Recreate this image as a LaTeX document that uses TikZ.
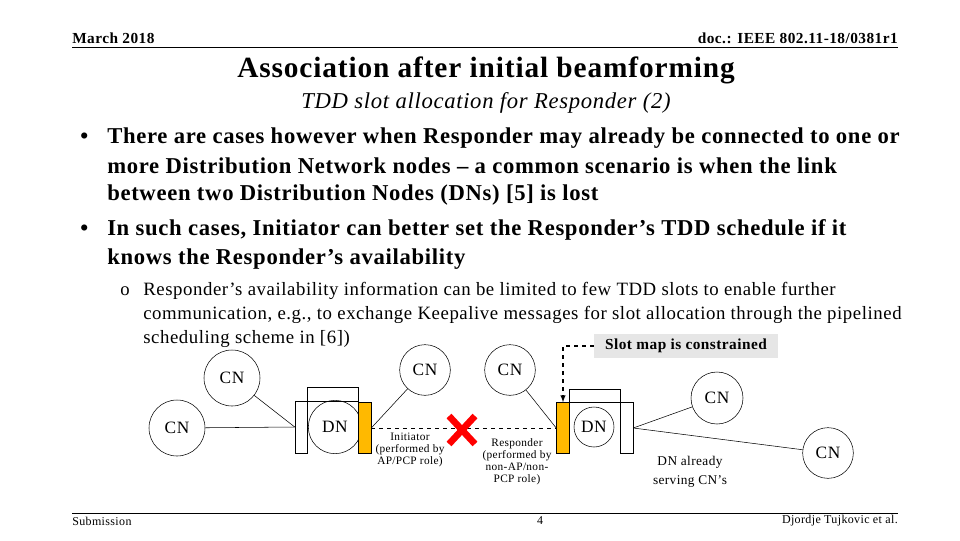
\documentclass[tikz,border=0pt]{standalone}
\usepackage{fontspec}
\setmainfont[LetterSpace=3]{Liberation Serif}
\usetikzlibrary{positioning}
\definecolor{slotbar}{HTML}{FFB900}
\definecolor{slotbox}{HTML}{E6E6E6}
\begin{document}
\begin{tikzpicture}[x=0.75pt,y=-0.75pt,
  cn/.style={circle,draw,thin,inner sep=0pt,font=\fontsize{13}{13}\selectfont},
  bar/.style={draw,fill=slotbar,minimum width=9.75pt,minimum height=38.25pt,inner sep=0pt},
  box/.style={draw,fill=white,inner sep=0pt},
  link/.style={thin},
  tiny/.style={align=center,font=\fontsize{8.5}{9}\selectfont},
  line/.style={anchor=west,inner sep=0pt},
]
  \useasboundingbox (0,0) rectangle (960,540);

  % header and title
  \node[line,font=\bfseries\fontsize{11.5}{11}\selectfont] (date) at (72,38) {March 2018};
  \node[line,anchor=east,font=\bfseries\fontsize{11.5}{11}\selectfont] (doc) at (898,38) {doc.: IEEE 802.11-18/0381r1};
  \draw (72,47) -- (898,47);
  \node[font=\bfseries\fontsize{22}{22}\selectfont] (title) at (486,70) {Association after initial beamforming};
  \node[font=\itshape\fontsize{17}{17}\selectfont] (sub) at (486,103) {TDD slot allocation for Responder (2)};

  % bullets
  \foreach \txt/\ypos in {
      {There are cases however when Responder may already be connected to one or}/138,
      {more Distribution Network nodes -- a common scenario is when the link}/166,
      {between two Distribution Nodes (DNs) [5] is lost}/195,
      {In such cases, Initiator can better set the Responder's TDD schedule if it}/230,
      {knows the Responder's availability}/259} {
    \node[line,font=\bfseries\fontsize{17}{17}\selectfont] at (107,\ypos) {\txt};
  }
  \node[line,font=\bfseries\fontsize{17}{17}\selectfont] (dot1) at (80,138) {\textbullet};
  \node[line,font=\bfseries\fontsize{17}{17}\selectfont] (dot2) at (80,230) {\textbullet};

  \node[line,font=\fontsize{14}{14}\selectfont] (dot3) at (120,291) {o};
  \foreach \txt [count=\i] in {
      {Responder's availability information can be limited to few TDD slots to enable further},
      {communication, e.g., to exchange Keepalive messages for slot allocation through the pipelined},
      {scheduling scheme in [6])}} {
    \node[line,font=\fontsize{14.1}{14}\selectfont] (sl\i) at (143,267+24*\i) {\txt};
  }

  % slot map note
  \node[fill=slotbox,minimum width=138pt,minimum height=18pt,inner sep=0pt,font=\bfseries\fontsize{11.5}{12}\selectfont] (slot) at (686,346) {Slot map is constrained};

  % left DN
  \node[box,minimum width=9pt,minimum height=39pt] (vl) at (301,427) {};
  \node[box,minimum width=38.25pt,minimum height=10.5pt] (hl) at (332.5,394) {};
  \node[cn,minimum size=40pt] (dnl) at (335,427) {DN};
  \node[bar] (ini) at (364.5,428) {};

  % right DN
  \node[bar] (res) at (563,428) {};
  \node[box,minimum width=38.25pt,minimum height=9.75pt] (hr) at (594.5,395.5) {};
  \node[box,minimum width=9.75pt,minimum height=38.25pt] (vr) at (626.5,428) {};
  \node[cn,minimum size=30pt] (dnr) at (594,427) {DN};

  % client nodes
  \node[cn,minimum size=42pt] (cna) at (232,378) {CN};
  \node[cn,minimum size=42pt] (cnb) at (177,428) {CN};
  \node[cn,minimum size=38pt] (cnc) at (425,370) {CN};
  \node[cn,minimum size=38pt] (cnd) at (510,370) {CN};
  \node[cn,minimum size=39pt] (cne) at (717,398) {CN};
  \node[cn,minimum size=38pt] (cnf) at (828,453) {CN};

  \draw[link] (cnb) -- (vl.west);
  \draw[link] (cna) -- (vl.west);
  \draw[link] (cnc) -- (ini.east);
  \draw[link,dashed] (ini.east) -- (res.west);
  \draw[link] (cnd) -- (res.west);
  \draw[link] (vr.east) -- (cne);
  \draw[link] (vr.east) -- (cnf);

  % broken link
  \draw[red,line width=5pt] (449,416) -- (475,444) (475,416) -- (449,444);

  \draw[thick,dashed,-latex] (slot.west) -| (res.north);

  \node[tiny] (inilbl) at (410,450) {Initiator\\(performed by\\AP/PCP role)};
  \node[tiny] (reslbl) at (517,462) {Responder\\(performed by\\non-AP/non-\\PCP role)};
  \node[align=center,font=\fontsize{10}{14}\selectfont] (serv) at (690,472) {DN already\\serving CN's};

  % footer
  \draw (72,513) -- (898,513);
  \node[line,font=\fontsize{9}{9}\selectfont] (subm) at (72,521) {Submission};
  \node[font=\fontsize{9}{9}\selectfont] (page) at (540,521) {4};
  \node[line,anchor=east,font=\fontsize{9}{9}\selectfont] (auth) at (898,521) {Djordje Tujkovic et al.};
\end{tikzpicture}
\end{document}
